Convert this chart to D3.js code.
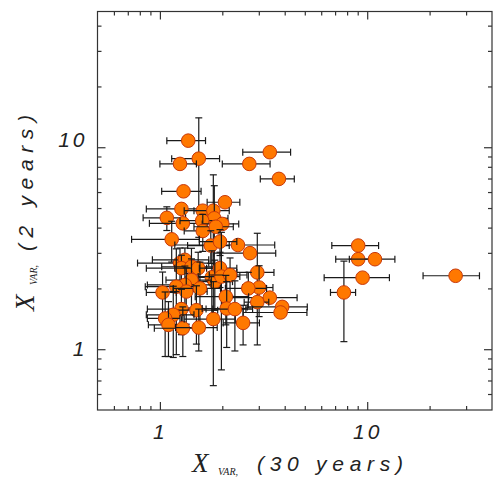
<!DOCTYPE html>
<html>
<head>
<meta charset="utf-8">
<script src="https://cdn.jsdelivr.net/npm/d3@7"></script>
<style>
  body { margin: 0; background: #fff; }
  svg { display: block; }
</style>
</head>
<body>
<svg id="chart"></svg>
<script>
// Graph Dimensions
const width = 496;
const height = 479;

// plot frame (pixels)
const frame = { left: 97.5, right: 492, top: 11.5, bottom: 410 };

// data: X_VAR over 30 years vs X_VAR over 2 years, with errors
const xVals = [1.37, 1.54, 1.25, 1.30, 2.06, 1.27, 1.08, 1.29, 1.61, 1.81, 1.83, 1.60, 2.00, 1.61, 1.86, 1.14,
  2.70, 3.39, 3.75, 9.05, 9.05, 10.9, 9.50, 7.72, 26.7, 2.95, 3.01, 3.39, 2.95, 3.89, 3.82, 2.72, 2.38, 2.67, 2.52,
  1.76, 1.95, 1.25, 1.32, 1.27, 1.42, 1.53, 1.78, 1.95, 1.84, 1.98, 2.18, 1.42, 1.32, 1.20, 1.34, 1.03, 1.56, 2.08,
  1.27, 1.50, 1.16, 1.06, 1.10, 1.29, 1.54, 1.81, 2.10, 2.30];
const yVals = [10.78, 8.78, 8.27, 6.05, 5.34, 4.95, 4.47, 4.20, 4.85, 4.85, 4.45, 4.33, 4.17, 3.85, 4.04, 3.50,
  8.27, 9.45, 6.97, 3.26, 2.79, 2.79, 2.26, 1.91, 2.31, 2.40, 2.02, 1.80, 1.71, 1.62, 1.52, 2.99, 3.28, 2.00, 1.35,
  3.26, 3.41, 2.67, 2.77, 2.52, 2.56, 2.52, 2.27, 2.52, 2.16, 2.29, 2.33, 2.20, 2.08, 2.04, 1.93, 1.91, 2.00, 1.82,
  1.58, 1.56, 1.48, 1.42, 1.32, 1.27, 1.28, 1.41, 1.59, 1.58];
const xErr = [0.29, 0.40, 0.25, 0.28, 0.37, 0.41, 0.25, 0.40, 0.30, 0.35, 0.30, 0.35, 0.40, 0.30, 0.40, 0.41,
  0.70, 0.88, 0.70, 2.3, 2.0, 2.7, 3.3, 1.07, 8.1, 0.60, 0.50, 1.2, 0.40, 1.25, 1.3, 0.90, 1.2, 0.60, 0.50,
  0.40, 0.40, 0.47, 0.40, 0.41, 0.40, 0.35, 0.40, 0.40, 0.40, 0.45, 0.45, 0.35, 0.45, 0.35, 0.35, 0.17, 0.40, 0.60,
  0.40, 0.40, 0.30, 0.19, 0.22, 0.35, 0.35, 0.50, 0.50, 0.50];
const yErr = [0, 5.2, 0, 0, 0, 0, 0.6, 0, 0, 2.45, 2.0, 0, 0, 0.8, 0, 0.8,
  0, 0, 0, 0, 0, 0, 0, 0.82, 0, 1.35, 0.57, 0, 0, 0, 0, 0, 0, 0.4, 0.3,
  0.6, 0.5, 0.5, 0.4, 0.4, 0.6, 0.5, 0.8, 0.5, 0.6, 1.5, 0.5, 0.6, 0.5, 1.1, 0.6, 0.5, 0.7, 0.5,
  0.4, 0.5, 0.57, 0.5, 0.4, 0.35, 0.3, 0.75, 0.57, 0.6];

// axis ticks
const xMajorTicks = [1, 10];
const xMinorTicks = [0.6, 0.7, 0.8, 0.9, 2, 3, 4, 5, 6, 7, 8, 9, 20, 30];
const yMajorTicks = [1, 10];
const yMinorTicks = [0.6, 0.7, 0.8, 0.9, 2, 3, 4, 5, 6, 7, 8, 9, 20, 30, 40];

const points = xVals.map((x, i) => ({ x: x, y: yVals[i], ex: xErr[i], ey: yErr[i] }));

const svg = d3.select("#chart").attr("width", width).attr("height", height);

svg.append("rect")
  .attr("width", width)
  .attr("height", height)
  .attr("fill", "#fff");

const xScale = d3.scaleLog().domain([0.5, 40]).range([frame.left, frame.right]);
const yScale = d3.scaleLog().domain([0.5, 47]).range([frame.bottom, frame.top]);

// error bars + markers, one point at a time
const capW = 3.5;
const g = svg.append("g");

points.forEach((d) => {
  const cx = xScale(d.x);
  const cy = yScale(d.y);
  const bar = g.append("g")
    .attr("stroke", "#1a1a1a")
    .attr("stroke-width", 1.2)
    .attr("fill", "none");

  if (d.ex > 0) {
    const x0 = xScale(Math.max(d.x - d.ex, 0.5));
    const x1 = xScale(d.x + d.ex);
    bar.append("line").attr("x1", x0).attr("x2", x1).attr("y1", cy).attr("y2", cy);
    bar.append("line").attr("x1", x0).attr("x2", x0).attr("y1", cy - capW).attr("y2", cy + capW);
    bar.append("line").attr("x1", x1).attr("x2", x1).attr("y1", cy - capW).attr("y2", cy + capW);
  }
  if (d.ey > 0) {
    const y0 = yScale(Math.max(d.y - d.ey, 0.5));
    const y1 = yScale(d.y + d.ey);
    bar.append("line").attr("x1", cx).attr("x2", cx).attr("y1", y0).attr("y2", y1);
    bar.append("line").attr("x1", cx - capW).attr("x2", cx + capW).attr("y1", y0).attr("y2", y0);
    bar.append("line").attr("x1", cx - capW).attr("x2", cx + capW).attr("y1", y1).attr("y2", y1);
  }

  g.append("circle")
    .attr("cx", cx)
    .attr("cy", cy)
    .attr("r", 6.8)
    .attr("fill", "#ff7800")
    .attr("stroke", "#c8380a")
    .attr("stroke-width", 1);
});

// frame
svg.append("rect")
  .attr("x", frame.left)
  .attr("y", frame.top)
  .attr("width", frame.right - frame.left)
  .attr("height", frame.bottom - frame.top)
  .attr("fill", "none")
  .attr("stroke", "#333")
  .attr("stroke-width", 1.2);

// ticks on all four sides, pointing inwards
function addAxis(axis, transform) {
  const a = svg.append("g")
    .attr("transform", transform)
    .call(axis);
  a.select(".domain").remove();
  a.selectAll(".tick line").attr("stroke", "#333").attr("stroke-width", 1.2);
  return a;
}

const tickFont = "'Liberation Sans', Arial, sans-serif";

// bottom
const xb = addAxis(
  d3.axisBottom(xScale).tickValues(xMajorTicks).tickSize(-8).tickPadding(14).tickFormat(d3.format("d")),
  `translate(0, ${frame.bottom})`
);
xb.selectAll("text")
  .attr("font-family", tickFont)
  .attr("font-style", "italic")
  .attr("font-size", 21)
  .attr("fill", "#222")
  .attr("letter-spacing", 3);
addAxis(d3.axisBottom(xScale).tickValues(xMinorTicks).tickSize(-4).tickFormat(""), `translate(0, ${frame.bottom})`);

// top
addAxis(d3.axisTop(xScale).tickValues(xMajorTicks).tickSize(-8).tickFormat(""), `translate(0, ${frame.top})`);
addAxis(d3.axisTop(xScale).tickValues(xMinorTicks).tickSize(-4).tickFormat(""), `translate(0, ${frame.top})`);

// left
const yl = addAxis(
  d3.axisLeft(yScale).tickValues(yMajorTicks).tickSize(-8).tickPadding(10).tickFormat(d3.format("d")),
  `translate(${frame.left}, 0)`
);
yl.selectAll("text")
  .attr("font-family", tickFont)
  .attr("font-style", "italic")
  .attr("font-size", 21)
  .attr("fill", "#222")
  .attr("letter-spacing", 3)
  .attr("y", (d) => (d === 10 ? -7 : 0));
addAxis(d3.axisLeft(yScale).tickValues(yMinorTicks).tickSize(-4).tickFormat(""), `translate(${frame.left}, 0)`);

// right
addAxis(d3.axisRight(yScale).tickValues(yMajorTicks).tickSize(-8).tickFormat(""), `translate(${frame.right}, 0)`);
addAxis(d3.axisRight(yScale).tickValues(yMinorTicks).tickSize(-4).tickFormat(""), `translate(${frame.right}, 0)`);

// axis titles
const serif = "'Liberation Serif', 'Times New Roman', serif";

function title(parent, xBig, xSub, xRest, base, restLen, restText) {
  parent.append("text")
    .attr("x", xBig).attr("y", base)
    .attr("font-family", serif).attr("font-style", "italic")
    .attr("font-size", 27).attr("fill", "#222")
    .text("X");
  parent.append("text")
    .attr("x", xSub).attr("y", base + 3)
    .attr("font-family", serif).attr("font-style", "italic")
    .attr("font-size", 10).attr("fill", "#222")
    .text("VAR,");
  parent.append("text")
    .attr("x", xRest).attr("y", base - 1)
    .attr("font-family", tickFont).attr("font-style", "italic")
    .attr("font-size", 21).attr("fill", "#222")
    .attr("textLength", restLen).attr("lengthAdjust", "spacing")
    .text(restText);
}

title(svg.append("g"), 192, 218, 257, 472, 146, "(30 years)");

title(svg.append("g").attr("transform", "translate(34, 479) rotate(-90)"),
  479 - 311, 479 - 285, 479 - 251, 0, 136, "(2 years)");
</script>
</body>
</html>
